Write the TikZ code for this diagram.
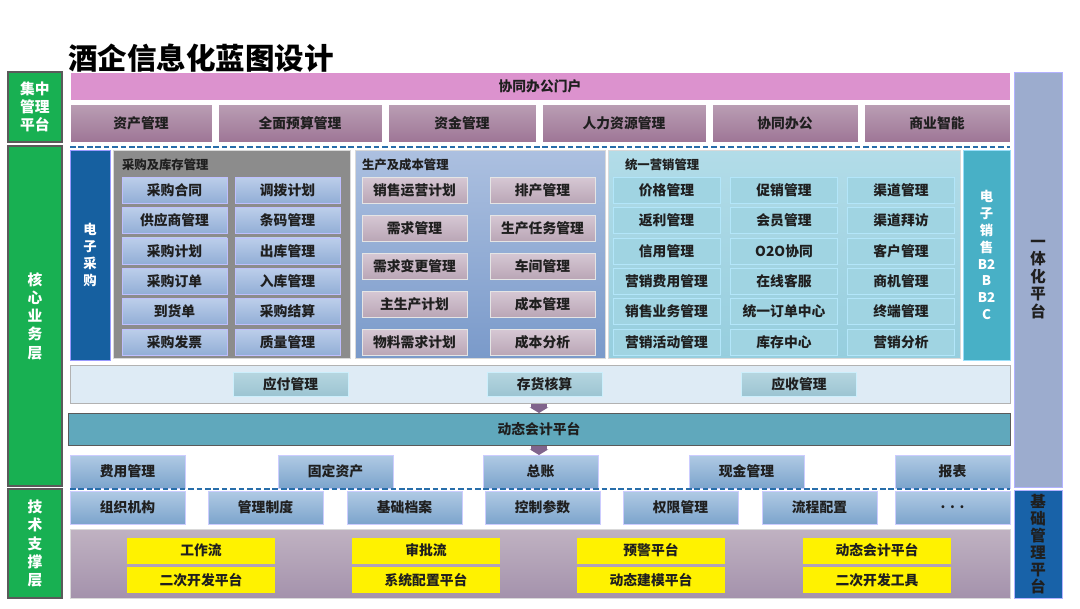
\documentclass[tikz,border=0pt]{standalone}
\usepackage{fontspec}
\setmainfont{Noto Sans CJK SC}
\usetikzlibrary{calc, positioning, arrows.meta}

\definecolor{laygreen}{RGB}{24,176,82}
\definecolor{laydraw}{RGB}{90,90,90}
\definecolor{portal}{RGB}{220,146,206}
\definecolor{mauvetop}{RGB}{186,158,180}
\definecolor{mauvebot}{RGB}{158,118,150}
\definecolor{procpanel}{RGB}{140,140,140}
\definecolor{pbtop}{RGB}{188,206,234}
\definecolor{pbbot}{RGB}{146,174,214}
\definecolor{prodtop}{RGB}{172,192,224}
\definecolor{prodbot}{RGB}{122,154,202}
\definecolor{prtop}{RGB}{214,200,212}
\definecolor{prbot}{RGB}{186,166,182}
\definecolor{mkttop}{RGB}{178,220,232}
\definecolor{mktbot}{RGB}{150,206,222}
\definecolor{mktbox}{RGB}{160,212,226}
\definecolor{ecteal}{RGB}{72,176,198}
\definecolor{ecblue}{RGB}{22,96,160}
\definecolor{arband}{RGB}{222,235,245}
\definecolor{artop}{RGB}{182,214,224}
\definecolor{arbot}{RGB}{156,196,210}
\definecolor{dynbar}{RGB}{96,168,188}
\definecolor{fintop}{RGB}{176,202,228}
\definecolor{finbot}{RGB}{124,164,204}
\definecolor{bottop}{RGB}{192,178,194}
\definecolor{botbot}{RGB}{164,146,172}
\definecolor{unify}{RGB}{156,172,206}
\definecolor{basedark}{RGB}{24,98,168}
\definecolor{chev}{RGB}{128,100,140}
\definecolor{sepblue}{RGB}{40,110,170}

\begin{document}
\begin{tikzpicture}[
  x=0.025cm, y=-0.025cm,
  every node/.style={font=\bfseries\fontsize{9.8}{12}\selectfont, inner sep=0pt, outer sep=0pt, text=black!88},
  sz/.style 2 args={minimum width=#1*0.025cm, minimum height=#2*0.025cm},
  layer/.style={draw=laydraw, line width=0.8pt, fill=laygreen, text=white, align=center,
    font=\bfseries\fontsize{10.5}{13}\selectfont},
  portalbar/.style={draw=white, fill=portal},
  mgmt/.style={draw=white, top color=mauvetop, bottom color=mauvebot, sz={#1}{38}},
  panel/.style={draw=white!70!gray, line width=0.6pt},
  paneltitle/.style={anchor=west, font=\bfseries\fontsize{8.8}{10}\selectfont},
  pbox/.style={draw=white!75!blue, top color=pbtop, bottom color=pbbot, sz={105}{26}},
  prbox/.style={draw=white!80!gray, top color=prtop, bottom color=prbot, sz={105}{26}},
  mbox/.style={draw=white!70!cyan, fill=mktbox, sz={107}{26}},
  vlab/.style={align=center, text=white, font=\bfseries\fontsize{9.5}{12}\selectfont},
  arbox/.style={draw=white!80!cyan, top color=artop, bottom color=arbot, sz={115}{24}},
  finbox/.style={draw=white!80!blue, top color=fintop, bottom color=finbot, sz={115}{33}},
  ybox/.style={fill=yellow, sz={148}{26}},
  flow/.style={draw=chev, line width=12pt, -{Triangle[length=4pt, width=13pt]}},
  sepline/.style={draw=sepblue, line width=1.4pt, dash pattern=on 4pt off 2pt}
]

\useasboundingbox (0,0) rectangle (1080,608);

\node[anchor=west, font=\bfseries\fontsize{21}{24}\selectfont, text=black] (title) at (68,58) {酒企信息化蓝图设计};

\node[layer, sz={54}{70}] (jz) at (35,107) {集中\\管理\\平台};
\node[layer, sz={54}{340}] (hx) at (35,316) {核\\心\\业\\务\\层};
\node[layer, sz={54}{109}] (js) at (35,543.5) {技\\术\\支\\撑\\层};

\node[draw=white!70!blue, fill=unify, sz={48}{415}, align=center,
  font=\bfseries\fontsize{11}{12.5}\selectfont] (yt) at (1038,279.5) {一\\体\\化\\平\\台};
\node[draw=white!70!blue, fill=basedark, sz={48}{108}, align=center,
  font=\bfseries\fontsize{11}{12}\selectfont] (jc) at (1038,544) {基\\础\\管\\理\\平\\台};

\node[portalbar, sz={940}{28}] (portal) at (540,86) {协同办公门户};

\node[mgmt=142] (M1) at (141,123) {资产管理};
\node[mgmt=164] (M2) at (300,123) {全面预算管理};
\node[mgmt=148] (M3) at (462,123) {资金管理};
\node[mgmt=164] (M4) at (624,123) {人力资源管理};
\node[mgmt=146] (M5) at (785,123) {协同办公};
\node[mgmt=146] (M6) at (937,123) {商业智能};

\draw[sepline] (70,147) -- (1010,147);

\node[draw=white!60!blue, fill=ecblue, sz={40}{210}, vlab] (ep) at (90,255) {电\\子\\采\\购};

\node[panel, fill=procpanel, sz={237}{208}] (proc) at (231.5,254) {};
\node[paneltitle] at (122,165) {采购及库存管理};
\foreach \t [count=\i] in {采购合同,供应商管理,采购计划,采购订单,到货单,采购发票} {
  \node[pbox] (PL\i) at (174.5,{190+30.4*(\i-1)}) {\t};
}
\foreach \t [count=\i] in {调拨计划,条码管理,出库管理,入库管理,采购结算,质量管理} {
  \node[pbox] (PR\i) at (287.5,{190+30.4*(\i-1)}) {\t};
}

\node[panel, top color=prodtop, bottom color=prodbot, sz={250}{208}] (prod) at (480,254) {};
\node[paneltitle] at (362,165) {生产及成本管理};
\foreach \t [count=\i] in {销售运营计划,需求管理,需求变更管理,主生产计划,物料需求计划} {
  \node[prbox] (RL\i) at (414.5,{190+38*(\i-1)}) {\t};
}
\foreach \t [count=\i] in {排产管理,生产任务管理,车间管理,成本管理,成本分析} {
  \node[prbox] (RR\i) at (542.5,{190+38*(\i-1)}) {\t};
}

\node[panel, top color=mkttop, bottom color=mktbot, sz={352}{208}] (mkt) at (784,254) {};
\node[paneltitle] at (625,165) {统一营销管理};
\foreach \t [count=\i] in {价格管理,返利管理,信用管理,营销费用管理,销售业务管理,营销活动管理} {
  \node[mbox] (KA\i) at (666.5,{190+30.4*(\i-1)}) {\t};
}
\foreach \t [count=\i] in {促销管理,会员管理,O2O协同,在线客服,统一订单中心,库存中心} {
  \node[mbox] (KB\i) at (784,{190+30.4*(\i-1)}) {\t};
}
\foreach \t [count=\i] in {渠道管理,渠道拜访,客户管理,商机管理,终端管理,营销分析} {
  \node[mbox] (KC\i) at (901,{190+30.4*(\i-1)}) {\t};
}

\node[draw=white!60!cyan, fill=ecteal, sz={47}{210}, vlab] (es) at (986.5,255) {电\\子\\销\\售\\B2\\B\\B2\\C};

\node[draw=gray!60, fill=arband, sz={940}{38}] (arrow) at (540,384) {};
\node[arbox] (ap) at (290.5,384) {应付管理};
\node[arbox] (inv) at (544.5,384) {存货核算};
\node[arbox] (ar) at (799,384) {应收管理};

\node[draw=laydraw, line width=0.6pt, fill=dynbar, sz={942}{32}] (dyn) at (539,429) {动态会计平台};

\node[finbox] (F1) at (127.5,471.5) {费用管理};
\node[finbox] (F2) at (335.5,471.5) {固定资产};
\node[finbox] (F3) at (540.5,471.5) {总账};
\node[finbox] (F4) at (746.5,471.5) {现金管理};
\node[finbox] (F5) at (952.5,471.5) {报表};

\draw[flow] ($(inv.south -| dyn.north)+(0,8)$) -- (dyn.north);
\draw[flow] ($(dyn.south)+(0,1)$) -- (F3.north -| dyn.south);

\draw[sepline] (70,489) -- (1010,489);

\foreach \t/\x [count=\i] in {组织机构/127.5,管理制度/265.5,基础档案/404.5,控制参数/542.5,权限管理/680.5,流程配置/819.5,{.\,\,.\,\,.}/952.5} {
  \node[finbox] (B\i) at (\x,507.5) {\t};
}

\node[draw=white!70!gray, top color=bottop, bottom color=botbot, sz={940}{69}] (tech) at (540,563.5) {};
\foreach \a/\b/\x [count=\i] in {工作流/二次开发平台/201,审批流/系统配置平台/426,预警平台/动态建模平台/651,动态会计平台/二次开发工具/877} {
  \node[ybox] (YA\i) at (\x,550.5) {\a};
  \node[ybox] (YB\i) at (\x,580) {\b};
}

\end{tikzpicture}
\end{document}
